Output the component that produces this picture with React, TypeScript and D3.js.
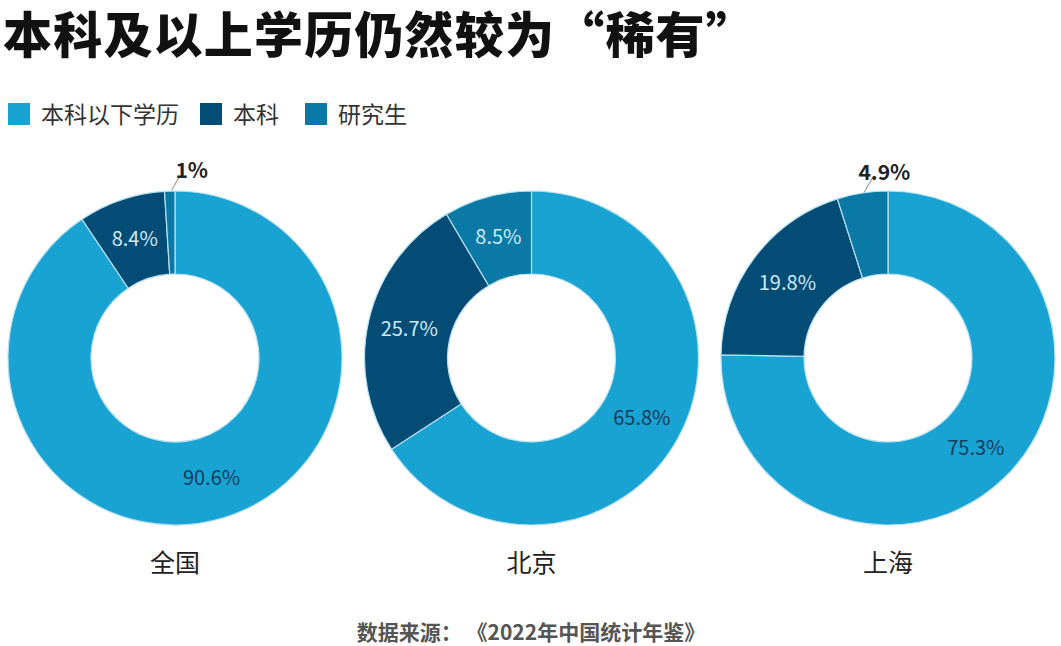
import React from "react";
import * as d3 from "d3";

const title = "本科及以上学历仍然较为“稀有”";
const source = "数据来源： 《2022年中国统计年鉴》";
const regions = ["全国", "北京", "上海"];
const categories = ["本科以下学历", "本科", "研究生"];
const belowBachelor = [90.6, 65.8, 75.3];
const bachelor = [8.4, 25.7, 19.8];
const graduate = [1, 8.5, 4.9];

const colors = ["#19a3d3", "#024c76", "#0a79a6"];
const labelColors = ["#123d5e", "#cfe9f6", "#cfe9f6"];
const FONT = "'Noto Sans CJK SC', 'Noto Sans', sans-serif";

const W = 1061;
const H = 646;
const outerR = 167;
const innerR = 84;
const cy = 358;

export default function App() {
  const x = d3.scalePoint<string>().domain(regions).range([175, 888]);
  const pie = d3
    .pie<{ cat: number; v: number }>()
    .sort(null)
    .value((d) => d.v);
  const arc = d3
    .arc<d3.PieArcDatum<{ cat: number; v: number }>>()
    .innerRadius(innerR)
    .outerRadius(outerR);

  const legendX = [8, 200, 305];

  return (
    <svg
      width={W}
      height={H}
      style={{ position: "absolute", left: 0, top: 0, background: "#fff" }}
      fontFamily={FONT}
    >
      <text x={3} y={53} fontSize={49} fontWeight={900} fill="#111" letterSpacing={1.2}>
        {title}
      </text>
      {categories.map((c, i) => (
        <g key={c} transform={`translate(${legendX[i]},103)`}>
          <rect width={22} height={22} fill={colors[i]} />
          <text x={33} y={20} fontSize={23} fill="#333">
            {c}
          </text>
        </g>
      ))}
      {regions.map((r, ri) => {
        const data = [belowBachelor[ri], bachelor[ri], graduate[ri]].map((v, cat) => ({ cat, v }));
        const arcs = pie(data);
        const cx = x(r)!;
        return (
          <g key={r} transform={`translate(${cx},${cy})`}>
            {arcs.map((a) => (
              <path
                key={a.index}
                d={arc(a)!}
                fill={colors[a.data.cat]}
                stroke="#b9e0f1"
                strokeWidth={1.2}
              />
            ))}
            {arcs.map((a) => {
              const label = `${a.data.v}%`;
              if (a.data.v < 6) {
                const mid = (a.startAngle + a.endAngle) / 2;
                const ox = Math.sin(mid) * outerR;
                const oy = -Math.cos(mid) * outerR;
                return (
                  <g key={"l" + a.index}>
                    <line
                      x1={ox + 2}
                      y1={oy - 1}
                      x2={ox + 10}
                      y2={oy - 15}
                      stroke="#888"
                      strokeWidth={1}
                    />
                    <text
                      x={ox + 22}
                      y={oy - 13}
                      textAnchor="middle"
                      fontSize={21}
                      fontWeight={700}
                      fill="#222"
                    >
                      {label}
                    </text>
                  </g>
                );
              }
              const [lx, ly] = arc.centroid(a);
              return (
                <text
                  key={"l" + a.index}
                  x={lx}
                  y={ly}
                  dy="0.35em"
                  textAnchor="middle"
                  fontSize={20}
                  fill={labelColors[a.data.cat]}
                >
                  {label}
                </text>
              );
            })}
            <text x={0} y={214} textAnchor="middle" fontSize={25} fill="#222">
              {r}
            </text>
          </g>
        );
      })}
      <text x={531} y={640} textAnchor="middle" fontSize={21} fontWeight={700} fill="#555">
        {source}
      </text>
    </svg>
  );
}
